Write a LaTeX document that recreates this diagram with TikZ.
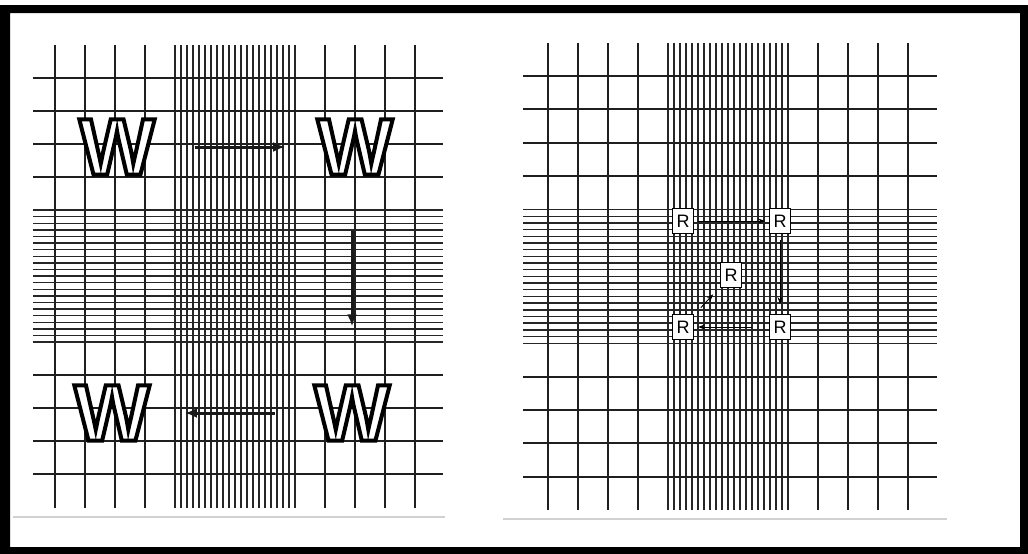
\documentclass[tikz,border=0pt]{standalone}
\usepackage{fontspec}
\setmainfont{Liberation Sans}
\newfontfamily\wfont[FakeBold=5]{Liberation Sans Bold}
\usetikzlibrary{arrows.meta}
\newcommand\hollowW{\special{pdf:bc [1] [0]}W\special{pdf:ec}}
\begin{document}
\begin{tikzpicture}[x=1pt,y=-1pt,
  coarse/.style={line width=1.9pt, black!88},
  fine/.style={line width=1.4pt, black!85},
  wnode/.style={font=\wfont\fontsize{80}{80}\selectfont, inner sep=0pt},
  bigarrow/.style={line width=3pt, black!90, -{Latex[length=12pt,width=10pt]}},
  rbox/.style={draw, line width=1pt, fill=white, minimum width=21pt, minimum height=25pt, inner sep=0pt, font=\fontsize{18}{18}\selectfont},
  smallarrow/.style={line width=0.9pt, -{Stealth[length=7pt,width=5pt]}},
  scan/.style={line width=2pt, black!18},
]
\useasboundingbox (0,0) rectangle (1028,554);
% frame
\fill[black, even odd rule] (0,5) rectangle (1028,554) (10,13) rectangle (1020,547);
% faint scan marks
\draw[scan] (13,517) -- (445,517);
\draw[scan] (503,519) -- (947,519);

% ---------- left panel grid ----------
\foreach \k in {0,1,2,3,9,10,11,12} \draw[coarse] (55+30*\k,45) -- (55+30*\k,508);
\foreach \k in {0,...,20} \draw[fine] (175+6*\k,45) -- (175+6*\k,508);
\foreach \k in {0,1,2,3,9,10,11,12} \draw[coarse] (33,78+33*\k) -- (443,78+33*\k);
\foreach \k in {0,...,20} \draw[fine] (33,210+6.6*\k) -- (443,210+6.6*\k);

% W letters
\node[wnode] (wul) at (117,147) {\hollowW};
\node[wnode] (wur) at (355,147) {\hollowW};
\node[wnode] (wll) at (112,413) {\hollowW};
\node[wnode] (wlr) at (352,413) {\hollowW};

% thick arrows
\draw[bigarrow, shorten <=40pt, shorten >=32pt] (wul) -- (wur);
\draw[bigarrow, shorten <=56pt, shorten >=59pt] (wlr |- wur.south) -- (wlr.north);
\draw[bigarrow, shorten <=39pt, shorten >=35pt] (wlr) -- (wll);

% ---------- right panel grid ----------
\foreach \k in {0,1,2,3,9,10,11,12} \draw[coarse] (548+30*\k,43) -- (548+30*\k,510);
\foreach \k in {0,...,20} \draw[fine] (668+6*\k,43) -- (668+6*\k,510);
\foreach \k in {0,1,2,3,9,10,11,12} \draw[coarse] (523,76+33.4*\k) -- (937,76+33.4*\k);
\foreach \k in {0,...,20} \draw[fine] (523,209.6+6.68*\k) -- (937,209.6+6.68*\k);

% R boxes
\node[rbox] (r1) at (683,221) {R};
\node[rbox] (r2) at (780,221) {R};
\node[rbox] (r3) at (731,275) {R};
\node[rbox] (r4) at (683,327) {R};
\node[rbox] (r5) at (780,327) {R};

% thin arrows
\draw[smallarrow, shorten <=4pt, shorten >=4pt] (r1) -- (r2);
\draw[smallarrow, shorten <=6pt, shorten >=10pt] (r2) -- (r5);
\draw[smallarrow, shorten <=17pt, shorten >=4pt] (r5) -- (r4);
\draw[smallarrow, shorten <=10pt, shorten >=10pt] (r4) -- (r3);
\end{tikzpicture}
\end{document}
